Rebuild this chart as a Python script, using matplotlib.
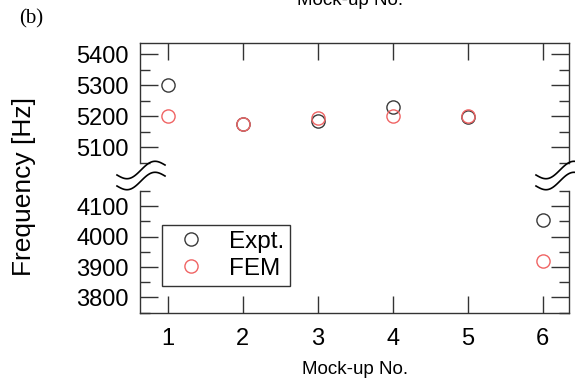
import matplotlib.pyplot as plt
import numpy as np
from matplotlib.lines import Line2D

plt.rcParams['font.family'] = ['Liberation Sans', 'DejaVu Sans']

# data
mockup = [1, 2, 3, 4, 5, 6]
expt = [5302, 5176, 5184, 5231, 5199, 4056]
fem = [5200, 5175, 5195, 5200, 5200, 3919]

W, H = 575, 379
fig = plt.figure(figsize=(W / 100, H / 100), dpi=100)

def frac(x0, y0, x1, y1):
    # pixel box (top-left origin) -> figure fraction rect
    return [x0 / W, 1 - y1 / H, (x1 - x0) / W, (y1 - y0) / H]

ax_top = fig.add_axes(frac(140, 43.3, 569.3, 163))
ax_bot = fig.add_axes(frac(140, 191, 569.3, 312.7))

c_expt = '#3a3a3a'
c_fem = '#f06464'
spine_c = '#333333'

for ax in (ax_top, ax_bot):
    ax.plot(mockup, expt, 'o', ms=9.5, mfc='none', mec=c_expt, mew=1.0, zorder=3)
    ax.plot(mockup, fem, 'o', ms=9.5, mfc='none', mec=c_fem, mew=1.0, zorder=3)
    ax.set_xlim(0.633, 6.355)
    ax.set_xticks(mockup)
    for s in ax.spines.values():
        s.set_color(spine_c)
        s.set_linewidth(1.0)
    ax.tick_params(axis='y', which='major', direction='in', length=13, width=1.0,
                   color=spine_c, left=True, right=True, labelsize=17, pad=8)
    ax.tick_params(axis='y', which='minor', direction='in', length=7, width=1.0,
                   color=spine_c, left=True, right=True)

ax_top.set_ylim(5070, 5436)
ax_top.set_yticks([5100, 5200, 5300, 5400])
ax_top.set_yticks(np.arange(5050, 5450, 50), minor=True)
ax_top.spines['bottom'].set_visible(False)
ax_top.tick_params(axis='x', which='both', direction='in', length=12.5, width=1.0,
                   color=spine_c, top=True, bottom=False, labelbottom=False)

ax_bot.set_ylim(3753, 4148)
ax_bot.set_yticks([3800, 3900, 4000, 4100])
ax_bot.set_yticks(np.arange(3750, 4200, 50), minor=True)
ax_bot.spines['top'].set_visible(False)
ax_bot.tick_params(axis='x', which='both', direction='in', length=12.5, width=1.0,
                   color=spine_c, top=False, bottom=True, labelsize=17, pad=11)
ax_bot.set_xlabel('Mock-up No.', fontsize=13.5, labelpad=8)

fig.text(24 / W, 1 - 186 / H, 'Frequency [Hz]', rotation=90, fontsize=19,
         ha='center', va='center')
fig.text(31 / W, 1 - 19 / H, '(b)', family='Liberation Serif', fontsize=15,
         ha='center', va='center')
fig.text(350 / W, 1 - 4.7 / H, 'Mock-up No.', fontsize=13.5, ha='center',
         va='baseline')

# wavy break marks
t = np.linspace(-1, 1, 60)
for cx in (141, 560):
    for cy in (170, 181):
        xs = cx + 24 * t
        ys = cy - (5 * t + 6 * np.sin(np.pi * t))
        fig.add_artist(Line2D(xs / W, 1 - ys / H, color='black', lw=1.2,
                              transform=fig.transFigure))

handles = [Line2D([], [], ls='none', marker='o', ms=9.5, mfc='none', mec=c_expt, mew=1.0),
           Line2D([], [], ls='none', marker='o', ms=9.5, mfc='none', mec=c_fem, mew=1.0)]
leg = ax_bot.legend(handles, ['Expt.', 'FEM'], loc='lower left',
                    bbox_to_anchor=(0.052, 0.222), borderaxespad=0, fontsize=17.5,
                    fancybox=False, framealpha=1, edgecolor='#333333',
                    handletextpad=0.6, labelspacing=0.2, borderpad=0.25,
                    handlelength=1.9)
leg.get_frame().set_linewidth(1.0)

fig.savefig('out.png', dpi=100)
